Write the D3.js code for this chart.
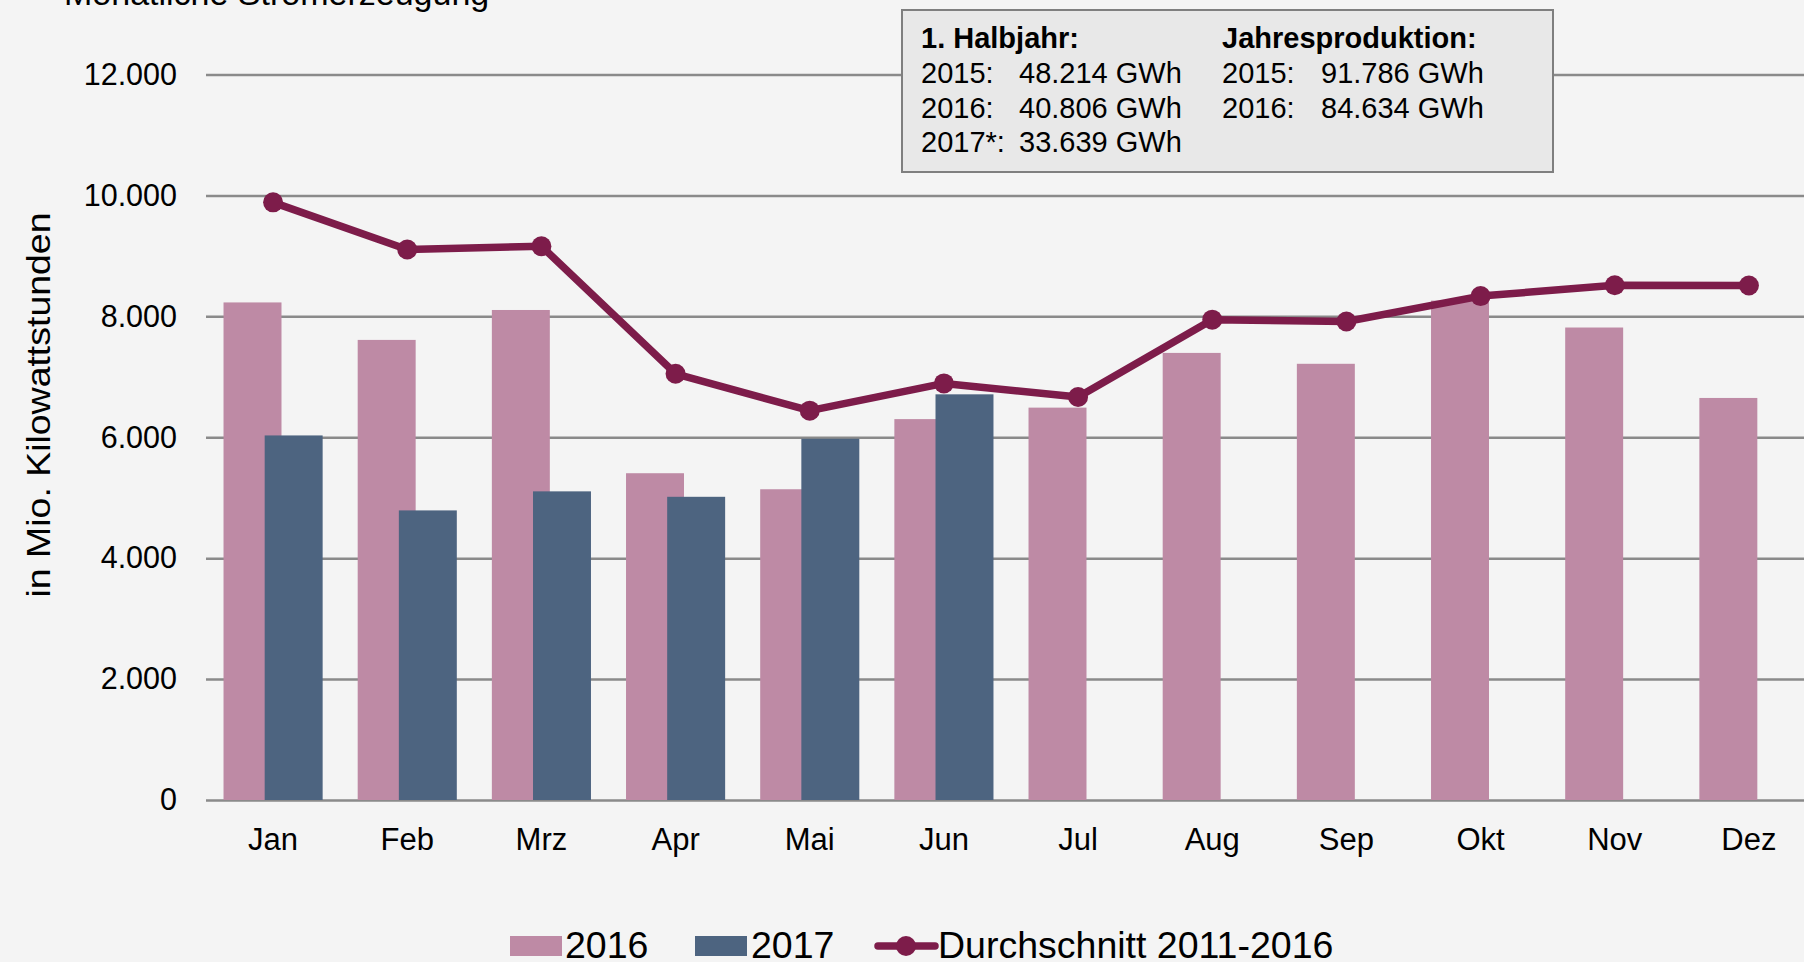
<!DOCTYPE html>
<html>
<head>
<meta charset="utf-8">
<script src="https://cdn.jsdelivr.net/npm/d3@7"></script>
<style>
  html, body { margin: 0; padding: 0; background: #f4f4f4; }
  svg { display: block; font-family: "Liberation Sans", Arial, sans-serif; }
</style>
</head>
<body>
<div id="chart"></div>
<script>
// Monatswerte in Mio. kWh
const months = ["Jan", "Feb", "Mrz", "Apr", "Mai", "Jun", "Jul", "Aug", "Sep", "Okt", "Nov", "Dez"];
const values2016 = [8230, 7610, 8105, 5405, 5140, 6300, 6490, 7395, 7215, 8260, 7815, 6650];
const values2017 = [6030, 4790, 5105, 5015, 5975, 6710, null, null, null, null, null, null];
const average = [9885, 9105, 9160, 7050, 6440, 6890, 6665, 7945, 7915, 8335, 8515, 8510];
const yTicks = [0, 2000, 4000, 6000, 8000, 10000, 12000];
const seriesNames = ["2016", "2017", "Durchschnitt 2011-2016"];
const boxLeft = ["1. Halbjahr:", "2015:", "2016:", "2017*:"];
const boxLeftVals = ["", "48.214 GWh", "40.806 GWh", "33.639 GWh"];
const boxRight = ["Jahresproduktion:", "2015:", "2016:"];
const boxRightVals = ["", "91.786 GWh", "84.634 GWh"];

const W = 1804, H = 962;
const pink = "#be8aa5", blue = "#4d6480", wine = "#7d1c4a", grid = "#8a8a8a";

const svg = d3.select("#chart").append("svg")
    .attr("width", W)
    .attr("height", H);

svg.append("rect").attr("width", W).attr("height", H).attr("fill", "#f4f4f4");

// title, cut off by the top edge in the original
svg.append("text")
    .attr("x", 64).attr("y", 5)
    .attr("font-size", 34)
    .attr("fill", "#000")
    .text("Monatliche Stromerzeugung");

const x = d3.scaleBand().domain(months).range([206, 1816]).padding(0);
const y = d3.scaleLinear().domain([0, 12000]).range([800, 74.5]);

const de = d3.formatLocale({ decimal: ",", thousands: ".", grouping: [3], currency: ["", " €"] });
const fmt = de.format(",");

// y axis with gridlines
const yAxis = d3.axisLeft(y)
    .tickValues(yTicks)
    .tickSize(-(1816 - 206))
    .tickPadding(29)
    .tickFormat(fmt);

const gy = svg.append("g")
    .attr("transform", "translate(206,0)")
    .call(yAxis);
gy.select(".domain").remove();
gy.selectAll(".tick line").attr("stroke", grid).attr("stroke-width", 2.5);
gy.selectAll(".tick text")
    .attr("font-size", 30.5)
    .attr("fill", "#000")
    .attr("font-family", "Liberation Sans, Arial, sans-serif");

// x axis labels
const xAxis = d3.axisBottom(x).tickSize(0).tickPadding(28);
const gx = svg.append("g")
    .attr("transform", "translate(0,800)")
    .call(xAxis);
gx.select(".domain").remove();
gx.selectAll(".tick text")
    .attr("font-size", 31)
    .attr("fill", "#000")
    .attr("font-family", "Liberation Sans, Arial, sans-serif");

// y axis title
svg.append("text")
    .attr("transform", "translate(50,405) rotate(-90)")
    .attr("text-anchor", "middle")
    .attr("font-size", 33)
    .attr("textLength", 385)
    .attr("lengthAdjust", "spacingAndGlyphs")
    .text("in Mio. Kilowattstunden");

// bars (overlapping like Excel)
const bw = x.bandwidth();
const barW = bw * 0.432;
const shift = barW * 0.71;
const off0 = bw / 2 - (barW + shift) / 2;

svg.append("g").selectAll("rect")
    .data(months.map((m, i) => ({ m, v: values2016[i] })))
    .join("rect")
    .attr("x", d => x(d.m) + off0)
    .attr("y", d => y(d.v))
    .attr("width", barW)
    .attr("height", d => y(0) - y(d.v))
    .attr("fill", pink);

svg.append("g").selectAll("rect")
    .data(months.map((m, i) => ({ m, v: values2017[i] })).filter(d => d.v != null))
    .join("rect")
    .attr("x", d => x(d.m) + off0 + shift)
    .attr("y", d => y(d.v))
    .attr("width", barW)
    .attr("height", d => y(0) - y(d.v))
    .attr("fill", blue);

// average line
const avgData = months.map((m, i) => ({ m, v: average[i] }));
const line = d3.line()
    .x(d => x(d.m) + bw / 2)
    .y(d => y(d.v));

svg.append("path")
    .datum(avgData)
    .attr("d", line)
    .attr("fill", "none")
    .attr("stroke", wine)
    .attr("stroke-width", 7.5)
    .attr("stroke-linejoin", "round");

svg.append("g").selectAll("circle")
    .data(avgData)
    .join("circle")
    .attr("cx", d => x(d.m) + bw / 2)
    .attr("cy", d => y(d.v))
    .attr("r", 10)
    .attr("fill", wine);

// info box
const box = svg.append("g");
box.append("rect")
    .attr("x", 902).attr("y", 10)
    .attr("width", 651).attr("height", 162)
    .attr("fill", "#e8e8e8")
    .attr("stroke", "#7f7f7f")
    .attr("stroke-width", 2);

const rowY = i => 48 + i * 34.8;
const fs = 29;
boxLeft.forEach((t, i) => {
    box.append("text").attr("x", 921).attr("y", rowY(i))
        .attr("font-size", fs).attr("font-weight", i === 0 ? "bold" : "normal")
        .text(t);
    if (boxLeftVals[i]) box.append("text").attr("x", 1019).attr("y", rowY(i))
        .attr("font-size", fs).text(boxLeftVals[i]);
});
boxRight.forEach((t, i) => {
    box.append("text").attr("x", 1222).attr("y", rowY(i))
        .attr("font-size", fs).attr("font-weight", i === 0 ? "bold" : "normal")
        .text(t);
    if (boxRightVals[i]) box.append("text").attr("x", 1321).attr("y", rowY(i))
        .attr("font-size", fs).text(boxRightVals[i]);
});

// legend
const leg = svg.append("g");
const legY = 958, lfs = 37.5;
leg.append("rect").attr("x", 510).attr("y", 936).attr("width", 52).attr("height", 20).attr("fill", pink);
leg.append("text").attr("x", 565).attr("y", legY).attr("font-size", lfs).text(seriesNames[0]);
leg.append("rect").attr("x", 695).attr("y", 936).attr("width", 52).attr("height", 20).attr("fill", blue);
leg.append("text").attr("x", 751).attr("y", legY).attr("font-size", lfs).text(seriesNames[1]);
leg.append("line").attr("x1", 878).attr("x2", 935).attr("y1", 946).attr("y2", 946)
    .attr("stroke", wine).attr("stroke-width", 7.5).attr("stroke-linecap", "round");
leg.append("circle").attr("cx", 906).attr("cy", 946).attr("r", 10).attr("fill", wine);
leg.append("text").attr("x", 938).attr("y", legY).attr("font-size", lfs).text(seriesNames[2]);
</script>
</body>
</html>
